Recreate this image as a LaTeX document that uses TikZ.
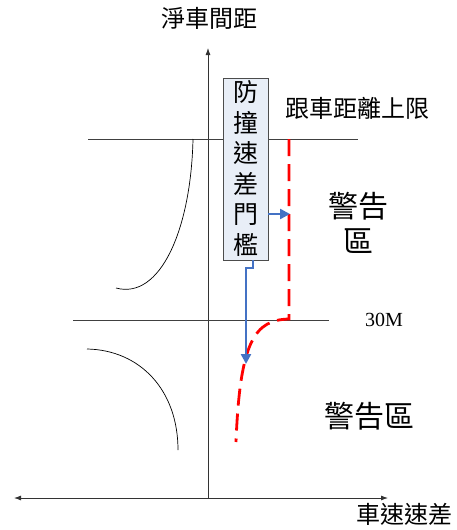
\documentclass[tikz,border=0pt]{standalone}
\usepackage{fontspec}
\setmainfont{Liberation Serif}
\newfontfamily\cjk{Noto Sans CJK TC}
\usetikzlibrary{arrows.meta}
\definecolor{arrblue}{RGB}{68,114,196}
\definecolor{boxfill}{RGB}{232,238,247}
\tikzset{
  axis/.style={draw=black!80, line width=0.8pt},
  guide/.style={draw=black!75, line width=0.9pt},
  curvy/.style={draw=black, line width=0.7pt},
  reddash/.style={draw=red, line width=2.8pt, dash pattern=on 17pt off 8pt},
  bluearr/.style={draw=arrblue, line width=2.4pt, -{Triangle[length=10pt,width=10pt]}},
  lbl/.style={inner sep=0pt, font=\cjk\fontsize{24}{26}\selectfont},
  boxnode/.style={draw=black!70, fill=boxfill, line width=0.6pt, inner sep=0pt, minimum width=45pt, minimum height=182pt, anchor=north west}
}
\begin{document}
\begin{tikzpicture}[x=1pt,y=-1pt]
\useasboundingbox (0,0) rectangle (456,530);
% axes
\coordinate (yb) at (208,498);
\coordinate (yt) at (208,48);
\coordinate (xl) at (14,498);
\coordinate (xr) at (388,498);
\draw[axis,-{Latex[length=7pt,width=5pt]}] (yb) -- (yt);
\draw[axis,{Latex[length=7pt,width=5pt]}-{Latex[length=7pt,width=5pt]}] (xl) -- (xr);
% guides
\coordinate (u1) at (88,139); \coordinate (u2) at (358,139);
\coordinate (l1) at (73,320); \coordinate (l2) at (329,320);
\draw[guide] (u1) -- (u2);
\draw[guide] (l1) -- (l2);
% curves
\coordinate (c1s) at (193,139); \coordinate (c1e) at (116,288);
\draw[curvy] (c1s) .. controls (191,230) and (160,300) .. (c1e);
\coordinate (c2s) at (87,349); \coordinate (c2e) at (178,450);
\draw[curvy] (c2s) .. controls (140,350) and (178,390) .. (c2e);
% box
\node[boxnode] (box) at (223,78) {};
\foreach \c [count=\i] in {防,撞,速,差,門,檻}{
  \node[lbl, font=\cjk\fontsize{25}{26}\selectfont] (b\i) at (245.5, 62+30.5*\i) {\c};
}
% red dashed
\coordinate (r1) at (289,139);
\coordinate (r2) at (289,319);
\coordinate (r3) at (236,442);
\draw[reddash] (r1) -- (r2) .. controls (255,320) and (240,340) .. (r3);
% blue arrows
\coordinate (ba1) at (268,214);
\coordinate (ba2) at (290,214);
\draw[bluearr] (ba1) -- (ba2);
\coordinate (bb1) at (253,260);
\coordinate (bb2) at (246,364);
\draw[bluearr] (bb1) -- (253,268) -- (246,268) -- (bb2);
% labels
\node[lbl] (ylab) at (209,18) {淨車間距};
\node[lbl] (xlab) at (404,514) {車速速差};
\node[lbl] (lim) at (357,108) {跟車距離上限};
\node[lbl, font=\cjk\fontsize{30}{35}\selectfont, align=center] (warn1) at (358,223) {警告\\區};
\node[inner sep=0pt, font=\fontsize{20}{21}\selectfont] (m30) at (384,320) {30M};
\node[lbl, font=\cjk\fontsize{30}{34}\selectfont] (warn2) at (369,416) {警告區};
\end{tikzpicture}
\end{document}
